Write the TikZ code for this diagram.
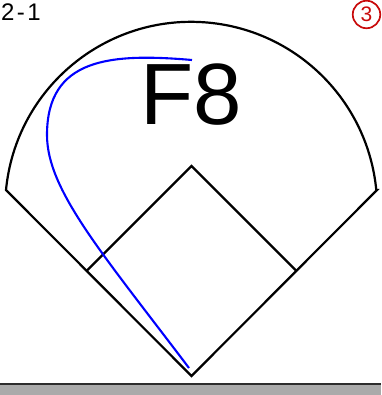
\documentclass[tikz,border=0pt]{standalone}
\usepackage{fontspec}
\setmainfont{Liberation Sans}
\usepackage{tikz}
\usetikzlibrary{positioning}
\definecolor{figred}{RGB}{200,10,10}
\definecolor{figbar}{RGB}{170,170,170}
\definecolor{figbarline}{RGB}{45,45,45}
\tikzstyle{fieldline} = [draw=black, line width=2.2pt, line join=miter]
\tikzstyle{hitline} = [draw=blue, line width=2.1pt]
\tikzstyle{countlabel} = [inner sep=0pt, font=\fontsize{24}{24}\selectfont\addfontfeature{LetterSpace=10}]
\tikzstyle{playlabel} = [inner sep=0pt, font=\fontsize{87}{87}\selectfont]
\tikzstyle{outmark} = [circle, draw=figred, text=figred, line width=1.7pt,
minimum size=27.5pt, inner sep=0pt, font=\fontsize{21}{21}\selectfont]

\begin{document}
\begin{tikzpicture}[x=1pt, y=1pt]
    \useasboundingbox (0,0) rectangle (381,395);
    % bottom bar
    \fill[figbar] (0,0) rectangle (381,10.5);
    \draw[figbarline, line width=2.2pt] (0,11) -- (381,11);

    % field
    \coordinate (home)   at (191.5,19);
    \coordinate (first)  at (296.5,124);
    \coordinate (second) at (191.5,229);
    \coordinate (third)  at (86.5,124);
    \coordinate (lcorner) at (6,205);
    \coordinate (rcorner) at (377,205);

    \draw[fieldline] (rcorner) -- (home) -- (lcorner)
        arc[start angle=174.5, end angle=5.5, radius=186] -- cycle;
    \draw[fieldline] (third) -- (second) -- (first);

    % batted ball
    \coordinate (ballend) at (189,27);
    \draw[hitline] (192,335) .. controls (110,342) and (47,337) .. (47,260)
        .. controls (47,205) and (102,142) .. (ballend);

    % labels
    \node (count) [countlabel, anchor=base west] at (1,374.5) {2-1};
    \node (play)  [playlabel, anchor=base] at (191.5,270) {F8};
    \node (outs)  [outmark] at (366.5,380.5) {3};
\end{tikzpicture}
\end{document}
